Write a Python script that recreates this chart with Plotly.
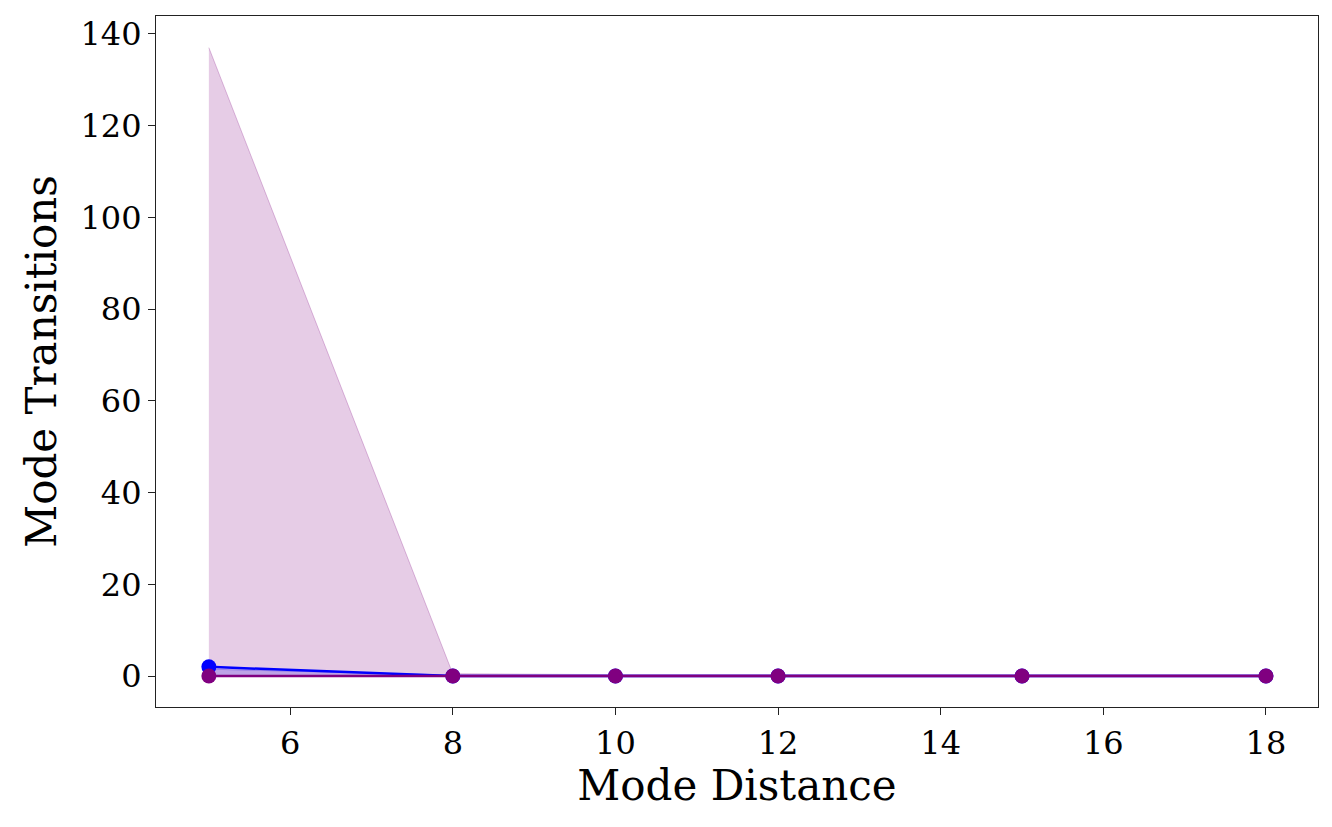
import plotly.graph_objects as go

distances = [5, 8, 10, 12, 15, 18]
blue_mean = [2, 0, 0, 0, 0, 0]
blue_low = [0, 0, 0, 0, 0, 0]
blue_high = [1.5, 0.2, 0.2, 0.2, 0.2, 0.2]
purple_mean = [0, 0, 0, 0, 0, 0]
purple_low = [0, 0, 0, 0, 0, 0]
purple_high = [137, 0.5, 0.3, 0.3, 0.3, 0.3]

fig = go.Figure()
# bandes
fig.add_trace(go.Scatter(x=distances, y=blue_low, mode="lines", line=dict(width=0), showlegend=False, hoverinfo="skip"))
fig.add_trace(go.Scatter(x=distances, y=blue_high, mode="lines", fill="tonexty",
                         fillcolor="rgba(0,0,255,0.2)", line=dict(width=1, color="rgba(0,0,255,0.3)"), showlegend=False))
fig.add_trace(go.Scatter(x=distances, y=purple_low, mode="lines", line=dict(width=0), showlegend=False, hoverinfo="skip"))
fig.add_trace(go.Scatter(x=distances, y=purple_high, mode="lines", fill="tonexty",
                         fillcolor="rgba(128,0,128,0.2)", line=dict(width=1, color="rgba(128,0,128,0.25)"), showlegend=False))
# lignes
fig.add_trace(go.Scatter(x=distances, y=blue_mean, mode="lines+markers", line=dict(color="blue", width=2.5),
                         marker=dict(size=15, color="blue"), showlegend=False))
fig.add_trace(go.Scatter(x=distances, y=purple_mean, mode="lines+markers", line=dict(color="purple", width=2.5),
                         marker=dict(size=15, color="purple"), showlegend=False))

axis_style = dict(showgrid=False, zeroline=False, showline=True, mirror=True, linecolor="#222", linewidth=1.2,
                  ticks="outside", ticklen=7, tickcolor="#222", tickfont=dict(size=32))
fig.update_layout(
    width=1332, height=827,
    paper_bgcolor="white", plot_bgcolor="white",
    font=dict(family="DejaVu Serif", color="black"),
    margin=dict(l=148, r=22, t=8, b=128),
    xaxis=dict(axis_style, range=[4.35, 18.64], tick0=6, dtick=2,
               title=dict(text="Mode Distance", font=dict(size=42), standoff=8)),
    yaxis=dict(axis_style, range=[-6.75, 143.9], dtick=20,
               title=dict(text="Mode Transitions", font=dict(size=42), standoff=10)),
)

fig.write_html("out.html")
